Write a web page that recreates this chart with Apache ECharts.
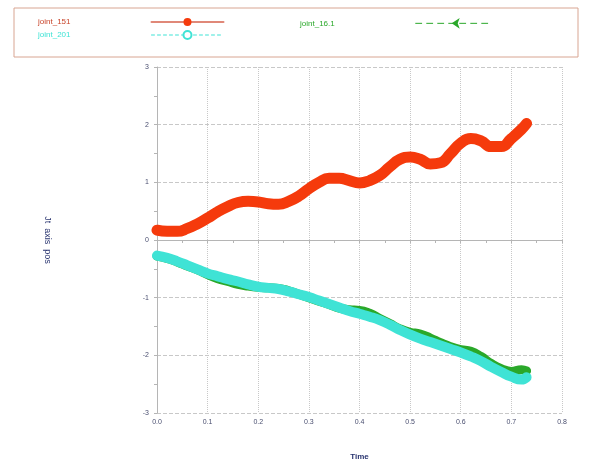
<!DOCTYPE html>
<html>
<head>
<meta charset="utf-8">
<script src="https://cdn.jsdelivr.net/npm/echarts@6/dist/echarts.min.js"></script>
<style>
  html, body { margin: 0; padding: 0; background: #fff; }
  #chart { width: 595px; height: 466px; }
</style>
</head>
<body>
<div id="chart"></div>
<script>
// sample times (s)
var time = [0.00, 0.02, 0.04, 0.06, 0.08, 0.10, 0.12, 0.14, 0.16, 0.18,
            0.20, 0.22, 0.24, 0.26, 0.28, 0.30, 0.32, 0.34, 0.36, 0.38,
            0.40, 0.42, 0.44, 0.46, 0.48, 0.50, 0.52, 0.54, 0.56, 0.58,
            0.60, 0.62, 0.64, 0.66, 0.68, 0.70, 0.72, 0.73];

var joint151 = [0.17, 0.15, 0.15, 0.20, 0.28, 0.38, 0.49, 0.58, 0.65, 0.67,
                0.66, 0.63, 0.62, 0.67, 0.76, 0.89, 1.00, 1.07, 1.07, 1.03,
                0.99, 1.03, 1.12, 1.27, 1.40, 1.44, 1.40, 1.32, 1.34, 1.50,
                1.68, 1.76, 1.72, 1.62, 1.62, 1.76, 1.92, 2.02];

var joint161 = [-0.28, -0.32, -0.38, -0.45, -0.52, -0.60, -0.67, -0.72, -0.77, -0.80,
                -0.82, -0.83, -0.84, -0.88, -0.94, -1.00, -1.06, -1.12, -1.18, -1.21,
                -1.22, -1.27, -1.36, -1.45, -1.54, -1.60, -1.63, -1.70, -1.78, -1.85,
                -1.90, -1.93, -2.02, -2.14, -2.23, -2.28, -2.25, -2.27];

var joint201 = [-0.27, -0.31, -0.37, -0.44, -0.51, -0.58, -0.63, -0.68, -0.72, -0.77,
                -0.81, -0.83, -0.85, -0.89, -0.94, -0.99, -1.05, -1.11, -1.17, -1.23,
                -1.28, -1.33, -1.39, -1.47, -1.56, -1.64, -1.71, -1.77, -1.83, -1.89,
                -1.95, -2.02, -2.10, -2.20, -2.29, -2.37, -2.42, -2.38];

var xTicks = [0, 0.1, 0.2, 0.3, 0.4, 0.5, 0.6, 0.7, 0.8];
var yTicks = [-3, -2, -1, 0, 1, 2, 3];

function pairs(vals) {
    return time.map(function (t, i) { return [t, vals[i]]; });
}

var red = '#f53a0c', green = '#2aa82a', cyan = '#3fe3d5';
var font = 'Liberation Sans';

// right padding on the text pushes the icon far to the right, like the original
var legendBase = {
    orient: 'vertical',
    top: 13,
    align: 'right',
    itemWidth: 72,
    itemHeight: 10,
    itemGap: 4,
    textStyle: { fontFamily: font, fontSize: 8, padding: [0, 76, 0, 0] }
};

var option = {
    animation: false,
    graphic: [{
        type: 'rect',
        shape: { x: 14, y: 8, width: 564, height: 49 },
        style: { fill: 'none', stroke: '#d8a592', lineWidth: 1 }
    }],
    legend: [
        Object.assign({}, legendBase, {
            left: 33,
            data: [
                { name: 'joint_151', textStyle: { color: '#c8442a' },
                  lineStyle: { width: 2, type: 'solid', color: '#e08878' } },
                { name: 'joint_201', textStyle: { color: cyan },
                  lineStyle: { width: 1, type: [3, 3] } }
            ]
        }),
        Object.assign({}, legendBase, {
            left: 295,
            data: [
                { name: 'joint_16.1', textStyle: { color: green },
                  lineStyle: { width: 1, type: [6, 5] } }
            ]
        })
    ],
    grid: { left: 157, right: 33, top: 67, bottom: 53 },
    xAxis: {
        type: 'value',
        min: xTicks[0],
        max: xTicks[xTicks.length - 1],
        interval: 0.1,
        name: 'Time',
        nameLocation: 'middle',
        nameGap: 40,
        nameTextStyle: { fontFamily: font, fontSize: 8, color: '#2a3570', fontWeight: 'bold' },
        axisLine: { lineStyle: { color: '#b5b5b5' } },
        axisTick: { show: true, length: 3, lineStyle: { color: '#b5b5b5' } },
        minorTick: { show: true, splitNumber: 2, length: 3, lineStyle: { color: '#b5b5b5' } },
        axisLabel: { fontFamily: font, fontSize: 7, color: '#4a4f70', margin: 6,
                     formatter: function (v) { return v.toFixed(1); } },
        splitLine: { show: true, lineStyle: { color: '#c8c8c8', type: 'dotted' } }
    },
    yAxis: {
        type: 'value',
        min: yTicks[0],
        max: yTicks[yTicks.length - 1],
        interval: 1,
        name: 'Jt  axis  pos',
        nameLocation: 'middle',
        nameRotate: -90,
        nameGap: 105,
        nameTextStyle: { fontFamily: font, fontSize: 9, color: '#2a3570' },
        axisLine: { show: true, lineStyle: { color: '#b5b5b5' } },
        axisTick: { show: true, length: 3, lineStyle: { color: '#b5b5b5' } },
        minorTick: { show: true, splitNumber: 2, length: 3, lineStyle: { color: '#b5b5b5' } },
        axisLabel: { fontFamily: font, fontSize: 7, color: '#4a4f70', margin: 8 },
        splitLine: { show: true, lineStyle: { color: '#c8c8c8', type: 'dashed' } }
    },
    series: [
        {
            name: 'joint_151',
            type: 'line',
            data: pairs(joint151),
            smooth: 0.5,
            symbol: 'circle',
            symbolSize: 10,
            showSymbol: false,
            color: red,
            lineStyle: { width: 11, cap: 'round', join: 'round' }
        },
        {
            name: 'joint_16.1',
            type: 'line',
            data: pairs(joint161),
            smooth: 0.5,
            symbol: 'arrow',
            symbolRotate: 90,
            symbolSize: 8,
            showSymbol: false,
            color: green,
            lineStyle: { width: 9, cap: 'round', join: 'round' }
        },
        {
            name: 'joint_201',
            type: 'line',
            data: pairs(joint201),
            smooth: 0.5,
            symbol: 'emptyCircle',
            symbolSize: 9,
            showSymbol: false,
            color: cyan,
            lineStyle: { width: 10, cap: 'round', join: 'round' }
        }
    ]
};

var myChart = echarts.init(document.getElementById('chart'));
myChart.setOption(option);
window.addEventListener('resize', function () {
    myChart.resize();
});
</script>
</body>
</html>
